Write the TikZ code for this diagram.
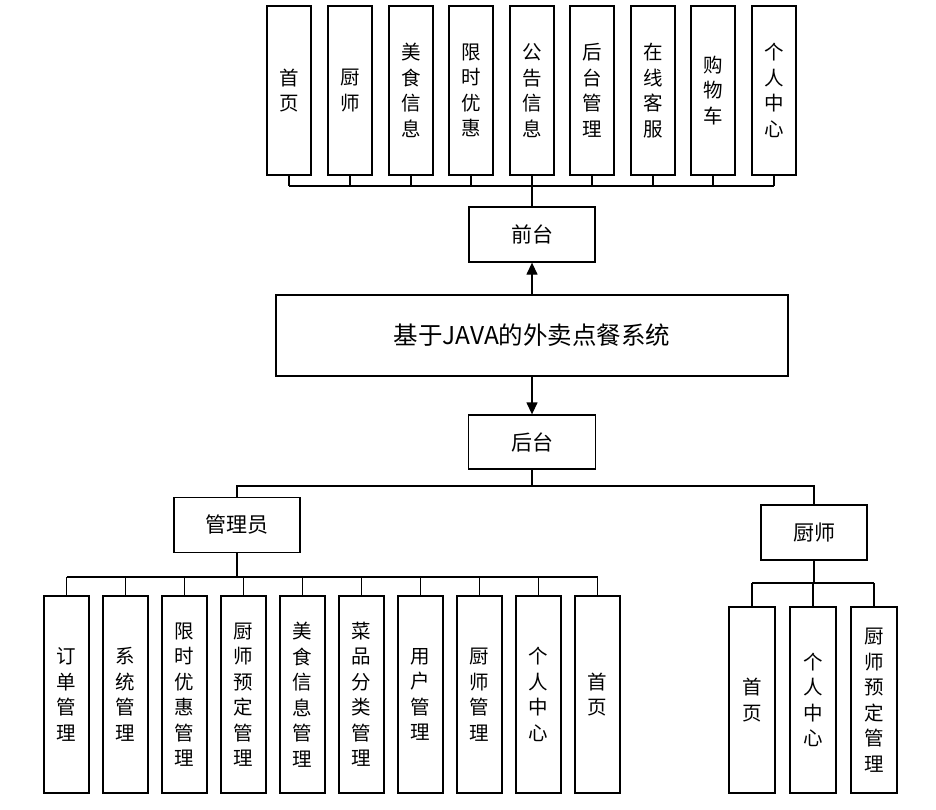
\documentclass[tikz,border=0pt]{standalone}
\usepackage{fontspec}
\setmainfont{Noto Sans CJK SC}
\usetikzlibrary{arrows.meta}
\begin{document}
\begin{tikzpicture}[x=1pt,y=-1pt,
  box/.style={draw,line width=1.3pt,inner sep=0pt,align=center},
  tall/.style={box,minimum width=44pt,minimum height=169pt,font=\fontsize{19.5}{25.5}\selectfont},
  low/.style={box,minimum width=45pt,minimum height=197pt,font=\fontsize{19.5}{25.5}\selectfont},
  mid/.style={box,minimum width=126pt,minimum height=55pt,font=\fontsize{21}{25}\selectfont},
  ln/.style={line width=1.3pt},
  arr/.style={line width=1.3pt,-{Triangle[length=12pt,width=11pt]}}]
\useasboundingbox (0,0) rectangle (936,810);
% front-end items
\node[tall] (t1) at (289,90.5) {首\\页};
\node[tall] (t2) at (350,90.5) {厨\\师};
\node[tall] (t3) at (411,90.5) {美\\食\\信\\息};
\node[tall] (t4) at (471,90.5) {限\\时\\优\\惠};
\node[tall] (t5) at (532,90.5) {公\\告\\信\\息};
\node[tall] (t6) at (592,90.5) {后\\台\\管\\理};
\node[tall] (t7) at (653,90.5) {在\\线\\客\\服};
\node[tall] (t8) at (713,90.5) {购\\物\\车};
\node[tall] (t9) at (774,90.5) {个\\人\\中\\心};
\node[mid] (qt) at (532,234.5) {前台};
\node[box,minimum width=512pt,minimum height=81pt,font=\fontsize{24.5}{29}\selectfont] (sys) at (532,335.5) {基于JAVA的外卖点餐系统};
\node[mid,minimum width=127pt,minimum height=54pt] (ht) at (532,442) {后台};
\node[mid] (gly) at (237,525) {管理员};
\node[mid,minimum width=106pt] (cs) at (814,532.5) {厨师};
% admin items
\node[low] (a1) at (66.5,694.5) {订\\单\\管\\理};
\node[low] (a2) at (125.5,694.5) {系\\统\\管\\理};
\node[low] (a3) at (184.5,694.5) {限\\时\\优\\惠\\管\\理};
\node[low] (a4) at (243.5,694.5) {厨\\师\\预\\定\\管\\理};
\node[low] (a5) at (302.5,694.5) {美\\食\\信\\息\\管\\理};
\node[low] (a6) at (361.5,694.5) {菜\\品\\分\\类\\管\\理};
\node[low] (a7) at (420.5,694.5) {用\\户\\管\\理};
\node[low] (a8) at (479.5,694.5) {厨\\师\\管\\理};
\node[low] (a9) at (538.5,694.5) {个\\人\\中\\心};
\node[low] (a10) at (597.5,694.5) {首\\页};
% chef items
\node[low,minimum width=46pt,minimum height=186pt] (c1) at (752,700) {首\\页};
\node[low,minimum width=46pt,minimum height=186pt] (c2) at (813,700) {个\\人\\中\\心};
\node[low,minimum width=46pt,minimum height=186pt] (c3) at (874,700) {厨\\师\\预\\定\\管\\理};
% bus coordinates
\coordinate (tb) at (0,186);
\coordinate (hb) at (0,486);
\coordinate (ab) at (0,577);
\coordinate (cb) at (0,583);
% front-end connectors
\draw[ln] (qt.north) -- (qt.north |- tb);
\draw[ln] (t1.south |- tb) -- (t9.south |- tb);
\foreach \i in {1,...,9} \draw[ln] (t\i.south) -- (t\i.south |- tb);
% arrows
\draw[arr] (sys.north) -- (qt.south);
\draw[arr] (sys.south) -- (ht.north);
% back-end split
\draw[ln] (ht.south) -- (ht.south |- hb);
\draw[ln] (gly.north) -- (gly.north |- hb) -- (cs.north |- hb) -- (cs.north);
% admin connectors
\draw[ln] (gly.south) -- (gly.south |- ab);
\draw[ln] (a1.north |- ab) -- (a10.north |- ab);
\foreach \i in {1,...,10} \draw[ln] (a\i.north) -- (a\i.north |- ab);
% chef connectors
\draw[ln] (cs.south) -- (cs.south |- cb);
\draw[ln] (c1.north |- cb) -- (c3.north |- cb);
\foreach \i in {1,2,3} \draw[ln] (c\i.north) -- (c\i.north |- cb);
\end{tikzpicture}
\end{document}
